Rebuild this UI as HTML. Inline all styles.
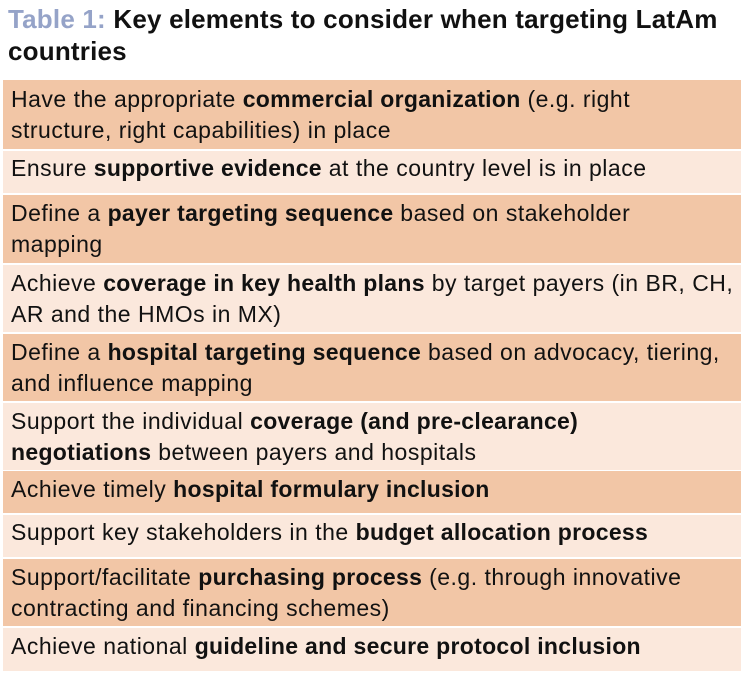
<!DOCTYPE html>
<html><head><meta charset="utf-8"><style>
body{margin:0;width:750px;height:677px;background:#fff;font-family:"Liberation Sans",sans-serif;color:#111;overflow:hidden}
.t{position:absolute;left:8px;top:3px;font-weight:bold;font-size:26px;line-height:32px;letter-spacing:0.2px;white-space:nowrap}
.t span{color:#95a3c8}
.r{position:absolute;left:3px;width:738px;box-sizing:border-box;padding-left:8px;font-size:23px;line-height:31px;letter-spacing:0.5px;white-space:nowrap}
.d{background:#f2c6a6}.l{background:#fbe8dc}
b{font-weight:bold;letter-spacing:0.3px}
</style></head><body>
<div class="t"><span>Table 1:</span> Key elements to consider when targeting LatAm<br>countries</div>
<div class="r d" style="top:80px;height:69px;padding-top:4px">Have the appropriate <b>commercial organization</b> (e.g. right<br>structure, right capabilities) in place</div>
<div class="r l" style="top:151px;height:42px;padding-top:2px">Ensure <b>supportive evidence</b> at the country level is in place</div>
<div class="r d" style="top:195px;height:68px;padding-top:3px">Define a <b>payer targeting sequence</b> based on stakeholder<br>mapping</div>
<div class="r l" style="top:265px;height:67px;padding-top:3px">Achieve <b>coverage in key health plans</b> by target payers (in BR, CH,<br>AR and the HMOs in MX)</div>
<div class="r d" style="top:334px;height:67px;padding-top:3px">Define a <b>hospital targeting sequence</b> based on advocacy, tiering,<br>and influence mapping</div>
<div class="r l" style="top:403px;height:67px;padding-top:3px">Support the individual <b>coverage (and pre-clearance)<br>negotiations</b> between payers and hospitals</div>
<div class="r d" style="top:471px;height:42px;padding-top:3px">Achieve timely <b>hospital formulary inclusion</b></div>
<div class="r l" style="top:515px;height:42px;padding-top:2px">Support key stakeholders in the <b>budget allocation process</b></div>
<div class="r d" style="top:559px;height:67px;padding-top:3px">Support/facilitate <b>purchasing process</b> (e.g. through innovative<br>contracting and financing schemes)</div>
<div class="r l" style="top:628px;height:43px;padding-top:3px">Achieve national <b>guideline and secure protocol inclusion</b></div>
</body></html>
